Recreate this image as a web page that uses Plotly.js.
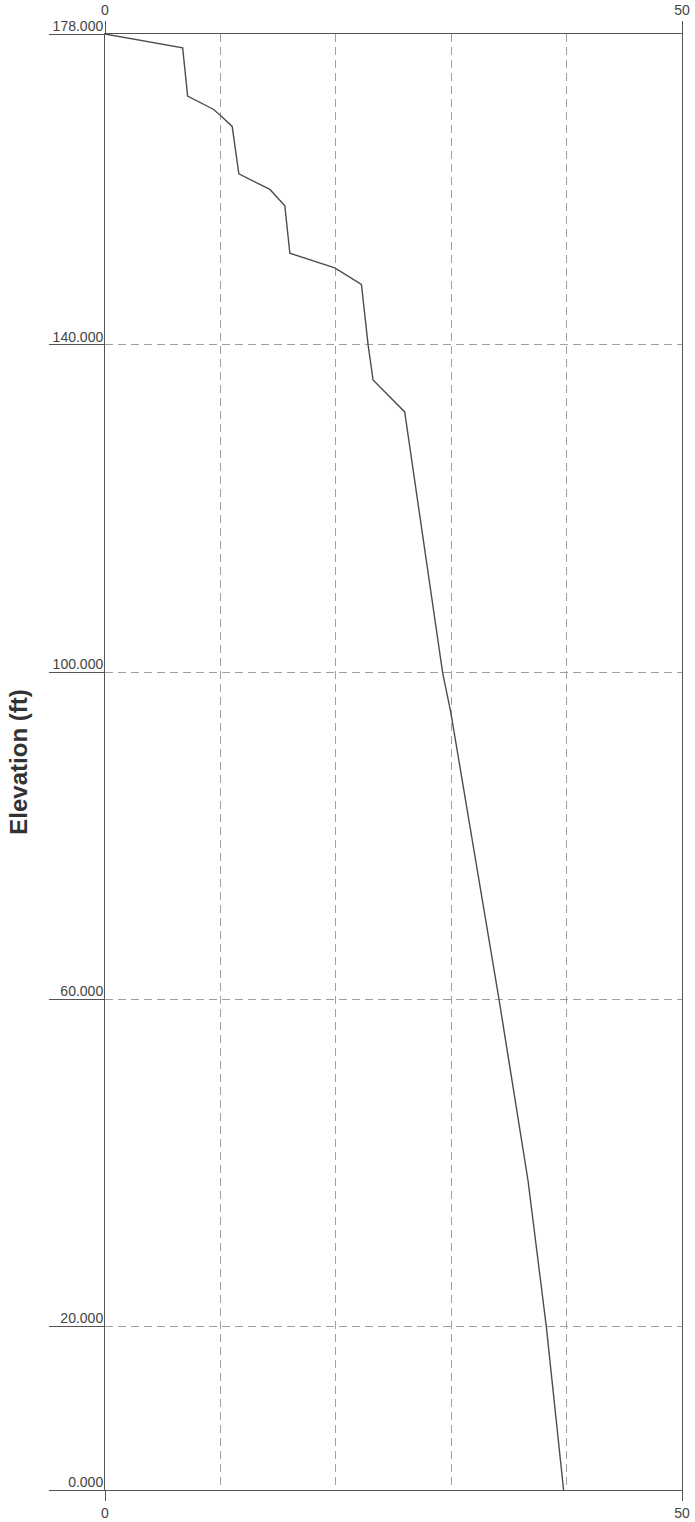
<!DOCTYPE html>
<html>
<head>
<meta charset="utf-8">
<script src="https://cdn.plot.ly/plotly-3.0.1.min.js"></script>
<style>html,body{margin:0;padding:0;background:#fff;}#chart{width:695px;height:1522px;}</style>
</head>
<body>
<div id="chart"></div>
<script>
// Data
const profileX = [0, 6.73, 7.16, 9.38, 9.96, 11.02, 11.6, 14.29, 15.58, 16.02, 19.91, 22.22, 22.8, 23.23, 25.97, 29.26, 29.96, 34.14, 36.65, 38.24, 39.74];
const elevation = [178, 176.3, 170.4, 168.8, 168.1, 166.7, 160.9, 159.0, 157.0, 151.2, 149.4, 147.4, 140, 135.7, 131.8, 99.9, 95.1, 60, 37.9, 20, 0];

const yTickVals = [0, 20, 60, 100, 140, 178];
const yTickText = ['0.000', '20.000', '60.000', '100.000', '140.000', '178.000'];
const xTickVals = [0, 50];
const xTickText = ['0', '50'];
const xGridVals = [10, 20, 30, 40];

const font = 'Liberation Sans, Arial, sans-serif';

const traces = [
  {
    x: profileX, y: elevation, type: 'scatter', mode: 'lines',
    line: {color: '#46504b', width: 1.4}, hoverinfo: 'skip', showlegend: false
  },
  {
    x: profileX, y: elevation, type: 'scatter', mode: 'lines', xaxis: 'x2',
    line: {color: 'rgba(0,0,0,0)', width: 0}, hoverinfo: 'skip', showlegend: false
  }
];

const layout = {
  width: 695, height: 1522,
  margin: {l: 105, r: 13, t: 34, b: 32},
  paper_bgcolor: '#ffffff', plot_bgcolor: '#ffffff',
  showlegend: false,
  font: {family: font, size: 13, color: '#444'},
  xaxis: {
    range: [0, 50], side: 'bottom',
    tickmode: 'array', tickvals: xTickVals, ticktext: xTickText,
    ticks: 'outside', ticklen: 10, tickcolor: '#555', tickwidth: 1,
    showgrid: false, zeroline: false,
    showline: true, linecolor: '#555', linewidth: 1, mirror: true,
    tickfont: {family: font, size: 14, color: '#444'},
    minor: {tickvals: xGridVals, showgrid: true, gridcolor: '#a0a0a0', gridwidth: 1, griddash: '8px,5px', ticks: ''}
  },
  xaxis2: {
    range: [0, 50], side: 'top', overlaying: 'x', matches: 'x', anchor: 'y',
    tickmode: 'array', tickvals: xTickVals, ticktext: xTickText,
    ticks: 'outside', ticklen: 12, tickcolor: '#555', tickwidth: 1,
    showgrid: false, zeroline: false, showline: false,
    tickfont: {family: font, size: 14, color: '#444'}
  },
  yaxis: {
    range: [0, 178],
    tickmode: 'array', tickvals: yTickVals, ticktext: yTickText,
    ticks: 'outside', ticklen: 55, tickcolor: '#555', tickwidth: 1,
    ticklabelstandoff: -57, ticklabelshift: -8,
    showgrid: true, gridcolor: '#a0a0a0', gridwidth: 1, griddash: '8px,5px',
    zeroline: false,
    showline: true, linecolor: '#555', linewidth: 1, mirror: true,
    tickfont: {family: font, size: 14, color: '#444'},
    title: {text: '<b>Elevation (ft)</b>', font: {family: font, size: 24, color: '#333'}, standoff: 18}
  }
};

Plotly.newPlot('chart', traces, layout, {staticPlot: true, displayModeBar: false});
</script>
</body>
</html>
